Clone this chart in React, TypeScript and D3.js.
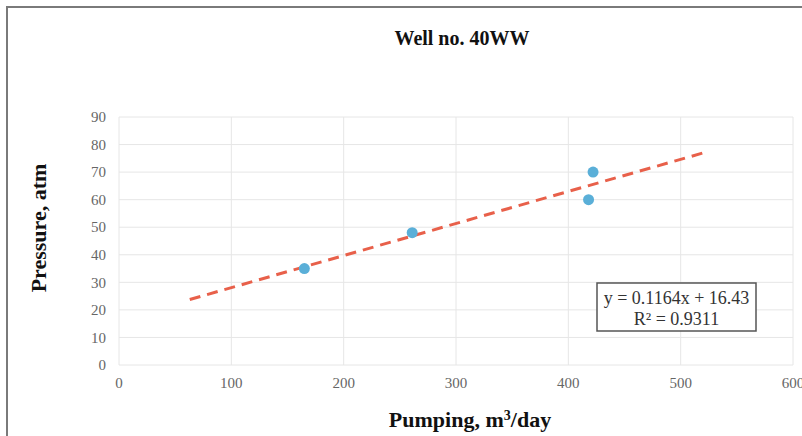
import { useEffect, useRef } from 'react';
import * as d3 from 'd3';

const pumping = [165, 261, 418, 422];
const pressure = [35, 48, 60, 70];
const xTicks = [0, 100, 200, 300, 400, 500, 600];
const yTicks = [0, 10, 20, 30, 40, 50, 60, 70, 80, 90];
const trendRange = [63, 523];
const slope = 0.1164;
const intercept = 16.43;

const W = 802;
const H = 436;

export default function App() {
  const svgRef = useRef<SVGSVGElement>(null);

  useEffect(() => {
    if (!svgRef.current) return;
    const svg = d3.select(svgRef.current);
    svg.selectAll('*').remove();

    const serif = '"Liberation Serif", "DejaVu Serif", serif';
    const x = d3.scaleLinear().domain([0, 600]).range([119, 793]);
    const y = d3.scaleLinear().domain([0, 90]).range([365, 117]);

    svg.append('rect').attr('width', W).attr('height', H).attr('fill', '#fff');

    // outer frame
    svg.append('rect')
      .attr('x', 7).attr('y', 7)
      .attr('width', W + 10).attr('height', H + 10)
      .attr('fill', 'none')
      .attr('stroke', '#7a7a7a')
      .attr('stroke-width', 2);

    const g = svg.append('g');

    // grid
    g.selectAll('line.gy').data(yTicks).join('line')
      .attr('x1', x(0)).attr('x2', x(600))
      .attr('y1', (d) => y(d)).attr('y2', (d) => y(d))
      .attr('stroke', '#e6e6e6').attr('stroke-width', 1);
    g.selectAll('line.gx').data(xTicks).join('line')
      .attr('y1', y(0)).attr('y2', y(90))
      .attr('x1', (d) => x(d)).attr('x2', (d) => x(d))
      .attr('stroke', '#e6e6e6').attr('stroke-width', 1);

    // tick labels
    g.selectAll('text.yt').data(yTicks).join('text')
      .attr('x', x(0) - 13).attr('y', (d) => y(d))
      .attr('dy', '0.35em')
      .attr('text-anchor', 'end')
      .attr('font-family', serif).attr('font-size', 15)
      .attr('fill', '#666')
      .text((d) => d);
    g.selectAll('text.xt').data(xTicks).join('text')
      .attr('x', (d) => x(d)).attr('y', y(0) + 23)
      .attr('text-anchor', 'middle')
      .attr('font-family', serif).attr('font-size', 15)
      .attr('fill', '#666')
      .text((d) => d);

    // trendline
    g.append('line')
      .attr('x1', x(trendRange[0])).attr('y1', y(slope * trendRange[0] + intercept))
      .attr('x2', x(trendRange[1])).attr('y2', y(slope * trendRange[1] + intercept))
      .attr('stroke', '#e8604a')
      .attr('stroke-width', 3)
      .attr('stroke-dasharray', '11,7');

    // points
    g.selectAll('circle').data(pumping).join('circle')
      .attr('cx', (d) => x(d))
      .attr('cy', (_d, i) => y(pressure[i]))
      .attr('r', 5.5)
      .attr('fill', '#5aafd8');

    // equation box
    g.append('rect')
      .attr('x', 597).attr('y', 283).attr('width', 159).attr('height', 48)
      .attr('fill', '#fff').attr('stroke', '#555').attr('stroke-width', 1.5);
    g.append('text')
      .attr('x', 676.5).attr('y', 304)
      .attr('text-anchor', 'middle')
      .attr('font-family', serif).attr('font-size', 18).attr('fill', '#333')
      .text(`y = ${slope}x + ${intercept}`);
    g.append('text')
      .attr('x', 676.5).attr('y', 325)
      .attr('text-anchor', 'middle')
      .attr('font-family', serif).attr('font-size', 18).attr('fill', '#333')
      .text('R² = 0.9311');

    // title and axis labels
    svg.append('text')
      .attr('x', 462).attr('y', 45)
      .attr('text-anchor', 'middle')
      .attr('font-family', serif).attr('font-size', 20).attr('font-weight', 'bold')
      .attr('fill', '#111')
      .text('Well no. 40WW');

    const xl = svg.append('text')
      .attr('x', 470).attr('y', 427)
      .attr('text-anchor', 'middle')
      .attr('font-family', serif).attr('font-size', 22).attr('font-weight', 'bold')
      .attr('fill', '#111');
    xl.append('tspan').text('Pumping, m');
    xl.append('tspan').attr('font-size', 14).attr('dy', -7).text('3');
    xl.append('tspan').attr('dy', 7).text('/day');

    svg.append('text')
      .attr('transform', 'translate(46,228) rotate(-90)')
      .attr('text-anchor', 'middle')
      .attr('font-family', serif).attr('font-size', 22).attr('font-weight', 'bold')
      .attr('fill', '#111')
      .text('Pressure, atm');
  }, []);

  return (
    <svg
      ref={svgRef}
      width={W}
      height={H}
      style={{ position: 'absolute', left: 0, top: 0, display: 'block' }}
    />
  );
}
